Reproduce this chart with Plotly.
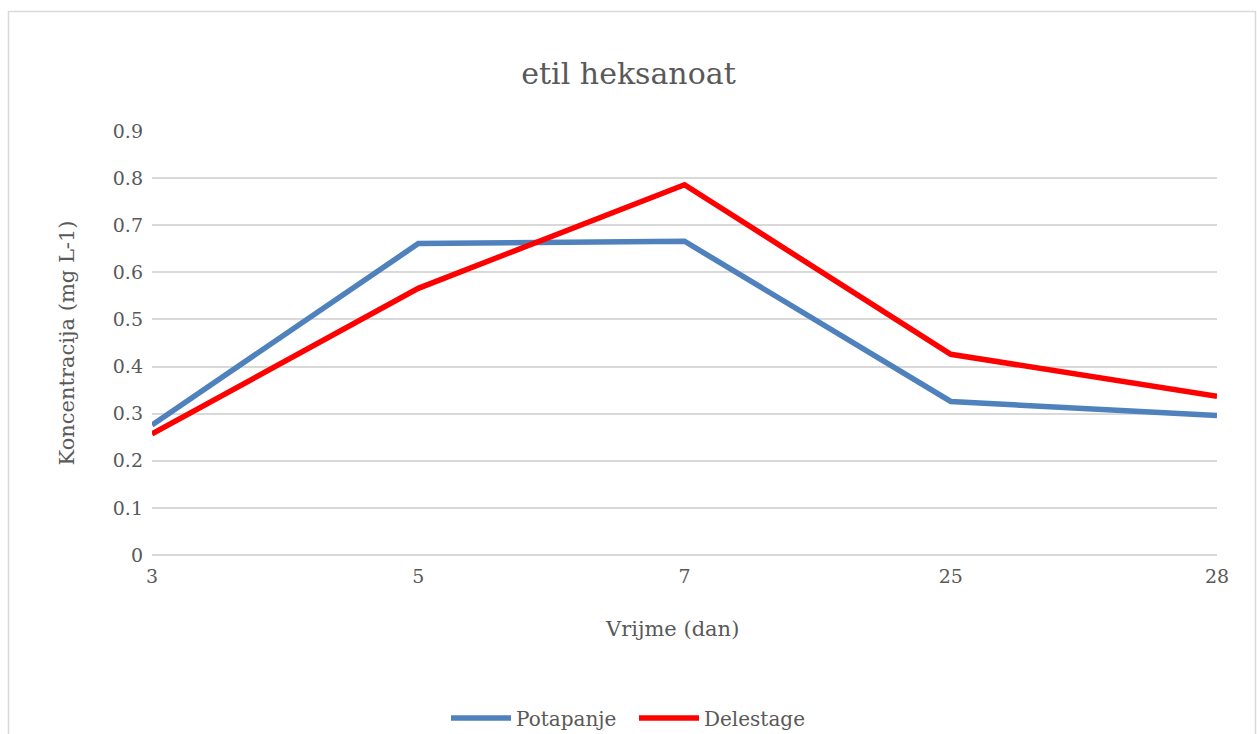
import plotly.graph_objects as go

categories = ["3", "5", "7", "25", "28"]
potapanje = [0.276, 0.661, 0.666, 0.326, 0.296]
delestage = [0.257, 0.566, 0.786, 0.426, 0.337]
y_ticks = [0, 0.1, 0.2, 0.3, 0.4, 0.5, 0.6, 0.7, 0.8, 0.9]

W, H = 1257, 734
L, R, T, B = 152, 40, 131, 179
FONT = "DejaVu Serif"
GRAY = "#595959"

fig = go.Figure()
fig.add_trace(go.Scatter(x=categories, y=potapanje, mode="lines", name="Potapanje",
                         line=dict(color="#4f81bd", width=5.5)))
fig.add_trace(go.Scatter(x=categories, y=delestage, mode="lines", name="Delestage",
                         line=dict(color="#ff0000", width=5.5)))

pw, ph = W - L - R, H - T - B
def px(x): return (x - L) / pw
def py(y): return (H - B - y) / ph

fig.update_layout(
    width=W, height=H,
    margin=dict(l=L, r=R, t=T, b=B, autoexpand=False),
    paper_bgcolor="white", plot_bgcolor="white",
    font=dict(family=FONT, color=GRAY, size=19),
    title=dict(text="etil heksanoat", x=0.5, xanchor="center", y=1 - 73 / H, yanchor="middle",
               font=dict(size=30, color=GRAY, family=FONT)),
    xaxis=dict(type="category", range=[0, len(categories) - 1], showgrid=False,
               showline=False, ticks="", tickfont=dict(size=19, color=GRAY),
               ticklabelstandoff=8, zeroline=False),
    yaxis=dict(range=[0, 0.9], tickvals=y_ticks, ticktext=[f"{v:g}" for v in y_ticks],
               showgrid=True, gridcolor="#d9d9d9", gridwidth=1.5, zeroline=True,
               zerolinecolor="#d9d9d9", zerolinewidth=1.5, showline=False, ticks="",
               tickfont=dict(size=19, color=GRAY), ticklabelstandoff=8,
               title=dict(text="Koncentracija (mg L-1)", font=dict(size=21, color=GRAY), standoff=32)),
    legend=dict(orientation="h", x=px(634), xanchor="center", y=py(718), yanchor="middle",
                font=dict(size=20, color=GRAY), itemwidth=60, entrywidth=113, entrywidthmode="pixels",
                bgcolor="rgba(0,0,0,0)"),
    showlegend=True,
)

fig.add_annotation(text="Vrijme (dan)", xref="paper", yref="paper", x=px(672), y=py(629),
                   xanchor="center", yanchor="middle", showarrow=False,
                   font=dict(size=21, color=GRAY, family=FONT))

fig.add_shape(type="rect", xref="paper", yref="paper",
              x0=px(8.5), x1=px(1255.5), y0=py(740), y1=py(11.5),
              line=dict(color="#d9d9d9", width=1.5), fillcolor="rgba(0,0,0,0)", layer="below")

fig.write_html("out.html", config={"displayModeBar": False},
               post_script="document.body.style.margin='0';")
